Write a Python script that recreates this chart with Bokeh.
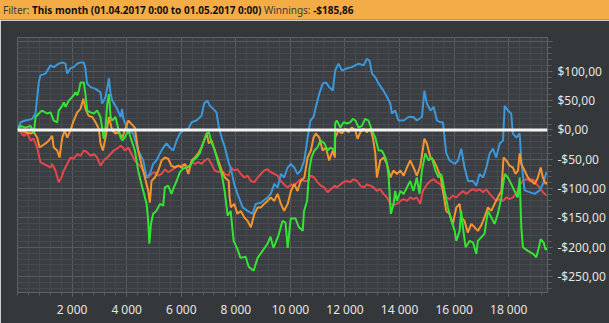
from bokeh.plotting import figure
from bokeh.models import Range1d, FixedTicker, Span, Div
from bokeh.layouts import column
from bokeh.embed import file_html
from bokeh.resources import INLINE

# ---------------- data (trade number, cumulative winnings in $) ----------------
blue_x = [0,110,290,480,540,660,780,840,1030,1210,1330,1510,1640,1760,1820,1940,2060,2190,2310,2430,
          2490,2550,2680,2860,3040,3100,3230,3350,3410,3470,3650,3780,3830,3880,4060,4240,4420,4610,4730,4850,
          4970,5090,5220,5340,5460,5580,5710,5830,5950,6070,6260,6380,6560,6740,6840,6960,7050,7170,7290,7380,
          7480,7600,7750,7810,7940,8060,8250,8430,8610,8730,8920,9160,9280,9410,9530,9650,9770,9900,10020,10140,
          10260,10380,10510,10630,10730,10850,10930,11060,11180,11300,11420,11550,11640,11760,11890,12070,12250,12500,12680,12800,
          12900,12990,13110,13230,13410,13540,13660,13720,13840,13960,14150,14330,14510,14630,14820,14910,15000,15130,15250,15370,
          15510,15590,15710,15830,16020,16140,16260,16380,16510,16690,16810,16930,17060,17180,17300,17420,17540,17670,17790,17850,
          17970,18090,18150,18280,18400,18460,18580,18760,18950,19130,19250,19380]
blue_y = [0,13,16,18,19,28,81,93,96,110,107,113,115,113,96,105,107,113,115,115,
          105,79,73,70,64,45,56,88,62,50,36,22,36,19,-1,-6,-35,-52,-81,-75,
          -58,-52,-40,-30,-23,-30,-35,-18,-6,-1,2,13,16,24,45,50,41,36,30,4,
          -13,-30,-58,-64,-92,-109,-132,-138,-143,-126,-124,-115,-109,-92,-98,-75,-81,-64,-58,-64,
          -75,-69,-52,-13,16,22,39,62,79,81,73,67,101,113,101,105,107,113,110,121,
          118,96,90,79,67,56,45,28,33,16,16,22,22,16,22,67,45,33,39,16,
          13,13,-40,-52,-58,-52,-32,-64,-87,-87,-95,-75,-81,-64,-40,-32,-47,-23,-18,41,
          33,28,-6,-13,-6,-52,-103,-106,-109,-103,-92,-72]

green_x = [0,110,290,480,600,660,780,900,1090,1210,1330,1455,1510,1640,1700,1760,1880,2005,2126,2190,
           2250,2310,2430,2490,2555,2675,2800,2920,3040,3100,3160,3225,3290,3350,3410,3470,3590,3710,3775,3850,
           3930,4060,4180,4300,4420,4540,4670,4730,4790,4830,4890,4970,5090,5220,5340,5400,5520,5640,5730,5830,
           5950,6070,6190,6320,6440,6560,6680,6810,6930,7010,7110,7230,7360,7480,7590,7700,7810,7920,8060,8170,
           8360,8470,8650,8800,8980,9160,9270,9380,9560,9710,9820,9900,10010,10190,10300,10450,10500,10610,10700,10770,
           10880,10990,11100,11250,11360,11470,11620,11640,11700,11830,11950,12070,12190,12290,12380,12500,12620,12740,12860,12990,
           13110,13230,13350,13480,13540,13600,13680,13780,13840,13900,14030,14150,14270,14390,14510,14630,14730,14820,14940,15060,
           15180,15310,15430,15510,15560,15650,15770,15900,16020,16080,16200,16260,16320,16420,16570,16690,16810,16870,16990,17110,
           17240,17360,17480,17600,17730,17850,17970,18090,18210,18330,18400,18460,18520,18700,18890,19010,19090,19170,19280,19350,
           19420]
green_y = [0,7,4,7,-6,22,28,33,28,30,16,13,33,41,47,39,50,56,64,59,
           67,81,81,61,33,30,28,33,22,4,-15,4,45,61,22,16,22,-1,-13,-18,
           -13,-1,-18,-35,-69,-92,-115,-126,-155,-194,-160,-143,-138,-126,-129,-98,-95,-109,-98,-87,
           -72,-66,-64,-61,-52,-47,-40,-21,-6,-4,-21,-35,-58,-75,-104,-146,-138,-189,-203,-218,
           -216,-233,-240,-218,-206,-194,-182,-201,-180,-155,-158,-201,-151,-151,-165,-172,-138,-121,-66,-47,
           -35,-30,-18,-23,-35,-30,-35,11,16,4,13,11,13,19,16,4,7,19,16,-1,
           -13,-35,-35,-47,-58,-81,-143,-126,-104,-121,-104,-109,-98,-87,-104,-81,-109,-69,-40,-52,
           -47,-69,-81,-75,-81,-104,-132,-155,-172,-189,-172,-138,-166,-200,-189,-192,-211,-189,-183,-177,
           -138,-149,-160,-143,-115,-75,-81,-92,-104,-115,-81,-166,-200,-206,-211,-217,-203,-186,-192,-204,
           -201]

orange_x = [0,110,290,480,600,720,810,900,1030,1150,1270,1330,1455,1540,1640,1730,1820,1940,2060,2190,
            2310,2410,2490,2610,2740,2860,2980,3040,3130,3225,3350,3470,3590,3710,3840,3930,4060,4180,4300,4420,
            4540,4670,4790,4850,4910,5030,5160,5280,5400,5520,5640,5770,5890,6010,6130,6260,6380,6500,6620,6740,
            6840,6930,7010,7110,7230,7360,7480,7600,7740,7770,7820,7940,8060,8180,8310,8430,8550,8680,8800,8920,
            9040,9160,9280,9410,9530,9650,9770,9900,10020,10140,10260,10380,10510,10630,10750,10850,10930,11060,11180,11300,
            11420,11550,11630,11640,11760,11890,12010,12130,12250,12380,12460,12560,12680,12800,12930,13020,13110,13170,13290,13410,
            13540,13660,13780,13900,14030,14150,14270,14390,14510,14630,14760,14910,15000,15130,15250,15370,15510,15590,15710,15830,
            15950,16080,16200,16260,16380,16500,16630,16750,16870,16990,17110,17240,17360,17480,17600,17730,17810,17910,18030,18150,
            18250,18340,18400,18460,18580,18700,18830,18950,19070,19170,19250,19350,19420]
orange_y = [0,-1,-4,-6,-4,-13,-30,-27,-23,-18,-10,-30,-35,-47,-13,-1,-13,-1,16,30,
            36,53,36,24,22,13,2,-23,-35,-13,22,-1,-6,-4,-13,-1,16,10,4,-35,
            -58,-81,-104,-124,-87,-81,-69,-52,-47,-49,-61,-64,-61,-64,-58,-75,-52,-47,-40,-30,
            -18,-6,-23,-18,-35,-52,-69,-81,-87,-114,-132,-126,-143,-138,-149,-155,-166,-143,-132,-132,
            -126,-121,-115,-121,-109,-126,-138,-126,-104,-92,-104,-87,-81,-47,-35,-13,-6,-13,-35,-30,
            -52,-35,-47,-13,-1,-6,2,-4,4,-1,-15,-4,2,-4,2,-13,-40,-81,-52,-47,
            -58,-81,-69,-75,-69,-78,-64,-52,-64,-78,-61,-15,-23,-47,-52,-64,-81,-104,-138,-143,
            -160,-132,-126,-149,-155,-175,-160,-166,-172,-163,-149,-132,-138,-126,-115,-104,-47,-52,-61,-64,
            -75,-69,-40,-58,-69,-81,-87,-92,-81,-64,-81,-92,-89]

red_x = [0,110,230,360,480,600,720,840,960,1090,1210,1270,1390,1510,1610,1700,1820,1940,2060,2190,
         2310,2430,2550,2680,2800,2920,3040,3160,3290,3410,3530,3650,3780,3860,3930,4060,4180,4300,4420,4540,
         4670,4790,4910,5030,5160,5280,5400,5520,5640,5770,5890,6010,6130,6260,6380,6500,6620,6740,6860,6990,
         7110,7230,7360,7480,7600,7740,7820,7940,8060,8180,8310,8430,8550,8680,8800,8920,9040,9160,9280,9410,
         9530,9650,9770,9900,10020,10140,10260,10380,10510,10630,10750,10870,10990,11110,11240,11360,11480,11630,11700,11830,
         11950,12070,12190,12310,12440,12560,12680,12800,12930,13050,13170,13290,13410,13540,13660,13780,13900,14030,14150,14270,
         14390,14510,14630,14760,14850,15000,15130,15250,15370,15510,15590,15710,15830,15950,16080,16200,16320,16450,16570,16690,
         16810,16930,17060,17180,17300,17420,17540,17670,17790,17910,18030,18150,18280,18400,18520,18640,18760,18890,19010,19130,
         19250,19380]
red_y = [0,-4,-10,-6,-18,-15,-30,-55,-58,-61,-64,-58,-69,-89,-81,-69,-58,-47,-49,-41,
         -44,-35,-38,-44,-41,-47,-61,-52,-47,-41,-35,-32,-27,-30,-35,-30,-41,-52,-58,-64,
         -75,-81,-75,-72,-78,-75,-67,-72,-69,-64,-61,-61,-58,-64,-55,-58,-55,-58,-52,-49,
         -58,-69,-72,-69,-75,-78,-64,-69,-67,-75,-81,-78,-87,-89,-81,-75,-69,-67,-72,-75,
         -78,-87,-93,-98,-93,-95,-89,-84,-87,-87,-78,-81,-89,-95,-98,-106,-101,-95,-98,-93,
         -89,-87,-89,-84,-87,-95,-98,-93,-95,-98,-104,-101,-109,-115,-126,-128,-126,-121,-118,-121,
         -115,-118,-115,-126,-104,-93,-87,-84,-89,-93,-104,-115,-118,-112,-115,-109,-104,-109,-104,-101,
         -104,-101,-106,-101,-109,-115,-121,-118,-121,-115,-118,-115,-109,-93,-87,-84,-87,-84,-92,-98,
         -106,-112]

x_ticks = [2000, 4000, 6000, 8000, 10000, 12000, 14000, 16000, 18000]
x_tick_labels = ["2 000", "4 000", "6 000", "8 000", "10 000", "12 000", "14 000", "16 000", "18 000"]
y_ticks = [-250, -200, -150, -100, -50, 0, 50, 100, 150]
y_tick_labels = ["-$250,00", "-$200,00", "-$150,00", "-$100,00", "-$50,00", "$0,00", "$50,00", "$100,00", ""]
x_minor = list(range(0, 19600, 400))
y_minor = list(range(-270, 160, 10))

filter_label = "Filter:"
filter_value = "This month (01.04.2017 0:00 to 01.05.2017 0:00)"
winnings_label = "Winnings:"
winnings_value = "-$185,86"

# ---------------- styling ----------------
FONT = "Noto Sans"
TEXT = "#e4e4e4"

p = figure(width=609, height=303,
           x_range=Range1d(0, 19420), y_range=Range1d(-277, 157.5),
           y_axis_location="right",
           output_backend="svg", toolbar_location=None,
           min_border_left=17, min_border_right=62, min_border_top=17, min_border_bottom=31,
           background_fill_color="#3b3e42", border_fill_color="#35383b",
           outline_line_color="#606366")

xa = p.xaxis[0]
ya = p.yaxis[0]
xa.ticker = FixedTicker(ticks=x_ticks, minor_ticks=x_minor)
ya.ticker = FixedTicker(ticks=y_ticks, minor_ticks=y_minor)
xa.major_label_overrides = dict(zip(x_ticks, x_tick_labels))
ya.major_label_overrides = dict(zip(y_ticks, y_tick_labels))
for ax in (xa, ya):
    ax.axis_line_color = "#606366"
    ax.major_tick_line_color = "#6a6d70"
    ax.minor_tick_line_color = "#5a5d60"
    ax.major_tick_in = 0
    ax.minor_tick_in = 0
    ax.major_label_text_color = TEXT
    ax.major_label_text_font = FONT
    ax.major_label_text_font_size = "12px"
xa.major_tick_out = 4
xa.minor_tick_out = 3
xa.major_label_standoff = 4
ya.major_tick_out = 5
ya.minor_tick_out = 4
ya.major_label_standoff = 5

for g in (p.xgrid[0], p.ygrid[0]):
    g.grid_line_color = "#575a5e"
    g.grid_line_width = 1
    g.minor_grid_line_color = "#46494d"
    g.minor_grid_line_width = 1

p.line(red_x, red_y, line_color="#e5474b", line_width=2)
p.line(blue_x, blue_y, line_color="#3a98db", line_width=2)
p.line(orange_x, orange_y, line_color="#f5952f", line_width=2)
p.line(green_x, green_y, line_color="#35e335", line_width=2)

p.add_layout(Span(location=0, dimension="width", line_color="#f4f4f4", line_width=3))

header_html = (
    '<div style="background:#f4ac46;width:609px;height:20px;line-height:20px;'
    'font-family:\'Noto Sans\';font-size:10px;color:#3a3a3a;padding-left:3px;'
    'box-sizing:border-box;white-space:nowrap;overflow:hidden;'
    'border-bottom:1px solid #d9913a">'
    f'{filter_label} <b style="color:#111">{filter_value}</b> '
    f'{winnings_label} <b style="color:#111">{winnings_value}</b></div>'
)
header = Div(text=header_html, width=609, height=20, margin=0)

layout = column(header, p, spacing=0)
open("out.html", "w").write(file_html(layout, INLINE))
